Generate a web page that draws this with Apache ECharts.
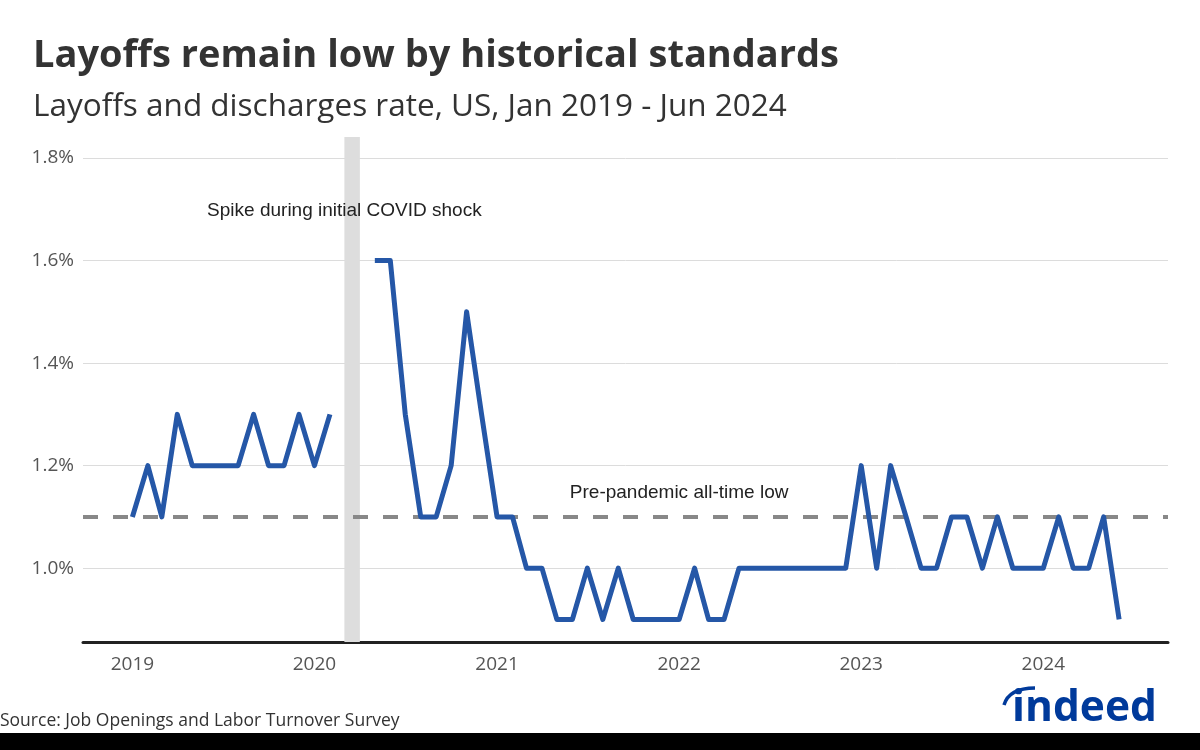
<!DOCTYPE html>
<html>
<head>
<meta charset="utf-8">
<script src="https://cdn.jsdelivr.net/npm/echarts@6/dist/echarts.min.js"></script>
<style>
  html, body { margin: 0; padding: 0; background: #fff; }
  #chart { width: 1200px; height: 750px; }
</style>
</head>
<body>
<div id="chart"></div>
<script>
// ---- data ----
const months = [
  '2019-01','2019-02','2019-03','2019-04','2019-05','2019-06','2019-07','2019-08','2019-09','2019-10','2019-11','2019-12',
  '2020-01','2020-02','2020-03','2020-04','2020-05','2020-06','2020-07','2020-08','2020-09','2020-10','2020-11','2020-12',
  '2021-01','2021-02','2021-03','2021-04','2021-05','2021-06','2021-07','2021-08','2021-09','2021-10','2021-11','2021-12',
  '2022-01','2022-02','2022-03','2022-04','2022-05','2022-06','2022-07','2022-08','2022-09','2022-10','2022-11','2022-12',
  '2023-01','2023-02','2023-03','2023-04','2023-05','2023-06','2023-07','2023-08','2023-09','2023-10','2023-11','2023-12',
  '2024-01','2024-02','2024-03','2024-04','2024-05','2024-06'
];
const layoffRate = [
  1.1,1.2,1.1,1.3,1.2,1.2,1.2,1.2,1.3,1.2,1.2,1.3,
  1.2,1.3,null,null,1.6,1.6,1.3,1.1,1.1,1.2,1.5,1.3,
  1.1,1.1,1.0,1.0,0.9,0.9,1.0,0.9,1.0,0.9,0.9,0.9,
  0.9,1.0,0.9,0.9,1.0,1.0,1.0,1.0,1.0,1.0,1.0,1.0,
  1.2,1.0,1.2,1.1,1.0,1.0,1.1,1.1,1.0,1.1,1.0,1.0,
  1.0,1.1,1.0,1.0,1.1,0.9
];
const yearTicks = ['2019-01','2020-01','2021-01','2022-01','2023-01','2024-01'];
const yearLabels = ['2019','2020','2021','2022','2023','2024'];
const yTicks = [1.0, 1.2, 1.4, 1.6, 1.8];
const preLow = 1.1;
const covidBand = ['2020-03', '2020-04'];
const covidLabel = { text: 'Spike during initial COVID shock', x: '2020-03', y: 1.697 };
const lowLabel = { text: 'Pre-pandemic all-time low', x: '2022-01', y: 1.148 };

const chart = echarts.init(document.getElementById('chart'), null, { renderer: 'canvas' });
const ts = s => Date.UTC(+s.slice(0, 4), +s.slice(5, 7) - 1, s.length > 7 ? +s.slice(8, 10) : 1);
const seriesData = months.map((m, i) => [ts(m), layoffRate[i]]);
const yearTs = yearTicks.map(ts);

const option = {
  backgroundColor: '#ffffff',
  animation: false,
  grid: { left: 83, right: 32, top: 137, bottom: 108, containLabel: false },
  xAxis: {
    type: 'value',
    min: ts('2018-09-24'),
    max: ts('2024-09-07'),
    axisLine: { show: true, onZero: false, lineStyle: { color: '#222', width: 3 } },
    axisTick: { show: false },
    splitLine: { show: false },
    axisLabel: {
      customValues: yearTs,
      formatter: v => yearLabels[yearTs.indexOf(v)] || '',
      color: '#555', fontSize: 19, fontFamily: 'Open Sans', margin: 13
    }
  },
  yAxis: {
    type: 'value',
    min: 0.856,
    max: 1.841,
    axisLine: { show: false },
    axisTick: { show: false },
    splitLine: { show: true, showMinLine: false, showMaxLine: false, lineStyle: { color: '#dcdcdc', width: 1 } },
    axisLabel: {
      customValues: yTicks,
      formatter: v => v.toFixed(1) + '%',
      color: '#555', fontSize: 19, fontFamily: 'Open Sans', margin: 9
    }
  },
  series: [{
    type: 'line',
    data: seriesData,
    showSymbol: false,
    connectNulls: false,
    lineStyle: { color: '#2557A7', width: 5, join: 'round', cap: 'butt' },
    itemStyle: { color: '#2557A7' },
    z: 5,
    markArea: {
      silent: true,
      itemStyle: { color: '#dddddd' },
      data: [[{ xAxis: ts(covidBand[0]) }, { xAxis: ts(covidBand[1]) }]]
    },
    markLine: {
      silent: true,
      symbol: 'none',
      label: { show: false },
      lineStyle: { color: '#888', width: 4, type: [15, 15] },
      data: [{ yAxis: preLow }]
    },
    markPoint: {
      silent: true,
      symbol: 'circle',
      symbolSize: 1,
      itemStyle: { color: 'rgba(0,0,0,0)' },
      label: { show: true, position: 'inside', color: '#222', fontSize: 19, fontFamily: 'Liberation Sans' },
      data: [
        { coord: [ts(covidLabel.x), covidLabel.y], label: { formatter: covidLabel.text } },
        { coord: [ts(lowLabel.x), lowLabel.y], label: { formatter: lowLabel.text } }
      ]
    }
  }],
  graphic: [
    { type: 'text', left: 33, top: 37, style: { text: 'Layoffs remain low by historical standards', font: 'bold 38px "Open Sans"', fill: '#333' } },
    { type: 'text', left: 33, top: 91, style: { text: 'Layoffs and discharges rate, US, Jan 2019 - Jun 2024', font: '31.5px "Open Sans"', fill: '#333' } },
    { type: 'text', left: 0, top: 712, style: { text: 'Source: Job Openings and Labor Turnover Survey', font: '17.5px "Open Sans"', fill: '#333' } },
    { type: 'rect', left: 0, top: 733, shape: { width: 1200, height: 17 }, style: { fill: '#000' } },
    { type: 'text', left: 1012, top: 687, style: { text: 'indeed', font: 'bold 42.5px "Open Sans"', fill: '#003A9B' } },
    { type: 'bezierCurve', shape: { x1: 1004, y1: 705, cpx1: 1009, cpy1: 688, x2: 1035, y2: 688 }, style: { stroke: '#003A9B', lineWidth: 3.5, fill: null } }
  ]
};
chart.setOption(option);
</script>
</body>
</html>
